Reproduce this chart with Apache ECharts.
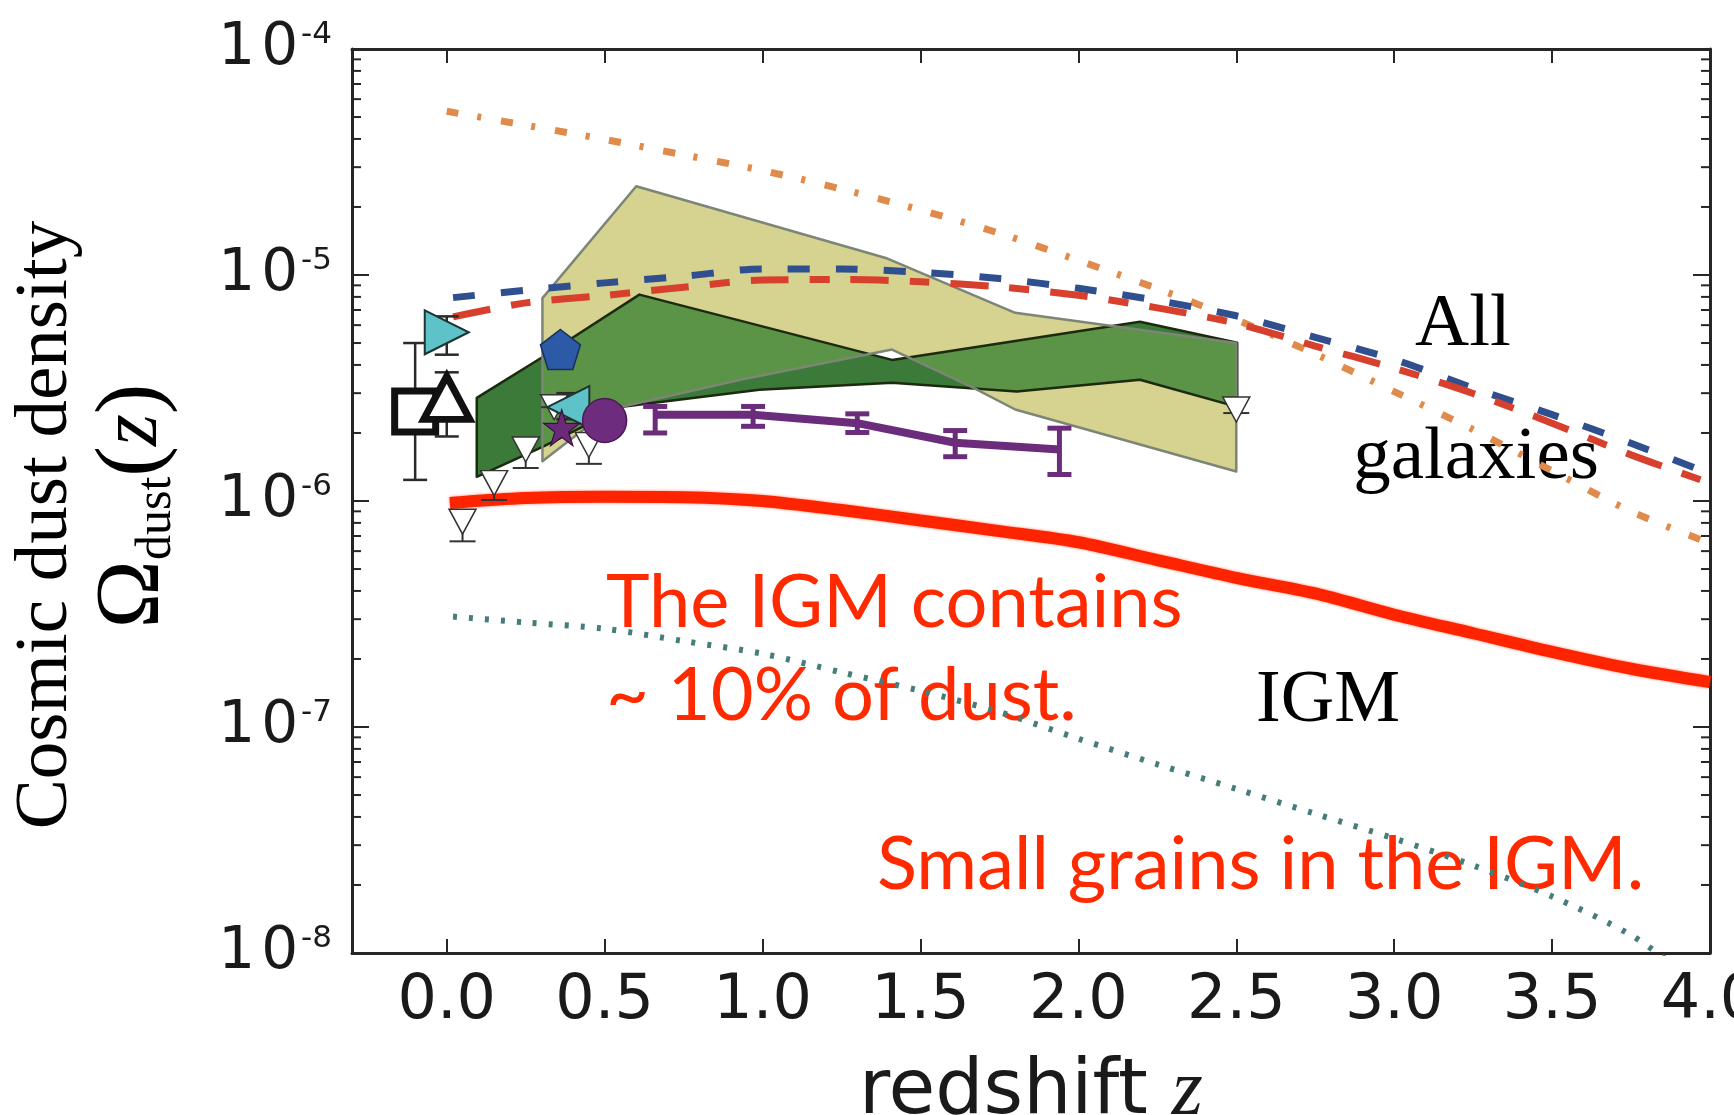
<!DOCTYPE html>
<html>
<head>
<meta charset="utf-8">
<script src="https://cdn.jsdelivr.net/npm/echarts@6/dist/echarts.min.js"></script>
<style>
  html, body { margin: 0; padding: 0; background: #ffffff; }
  #chart { width: 1734px; height: 1115px; }
</style>
</head>
<body>
<div id="chart"></div>
<script>
// ---------- axis ticks ----------
const xTicks = [0, 0.5, 1.0, 1.5, 2.0, 2.5, 3.0, 3.5, 4.0];
const yDecades = [1e-8, 1e-7, 1e-6, 1e-5, 1e-4];

// ---------- model curves: Omega_dust(z) ----------
const modelZ = [0.02, 0.25, 0.5, 0.75, 1.0, 1.25, 1.5, 1.75, 2.0, 2.25, 2.5, 2.75, 3.0, 3.25, 3.5, 3.75, 4.0];
const galaxiesBlue = [7.94e-6, 8.57e-6, 9.23e-6, 9.87e-6, 1.064e-5, 1.063e-5, 1.028e-5, 9.64e-6, 8.73e-6, 7.71e-6, 6.6e-6, 5.3e-6, 4.23e-6, 3.16e-6, 2.41e-6, 1.80e-6, 1.32e-6];
const galaxiesRed  = [6.53e-6, 7.53e-6, 8.12e-6, 8.83e-6, 9.5e-6, 9.55e-6, 9.33e-6, 8.86e-6, 8.13e-6, 7.15e-6, 6.11e-6, 4.85e-6, 3.87e-6, 2.99e-6, 2.21e-6, 1.60e-6, 1.20e-6];
const orangeZ = [0, 0.25, 0.5, 0.75, 1.0, 1.25, 1.5, 1.75, 2.0, 2.25, 2.5, 2.75, 3.0, 3.25, 3.5, 3.75, 4.0];
const galaxiesOrange = [5.3e-5, 4.6e-5, 3.98e-5, 3.4e-5, 2.9e-5, 2.4e-5, 1.94e-5, 1.53e-5, 1.16e-5, 8.7e-6, 6.34e-6, 4.47e-6, 3.05e-6, 2.07e-6, 1.36e-6, 9.0e-7, 6.5e-7];
const igmZ = [0.01, 0.25, 0.5, 0.75, 1.0, 1.25, 1.5, 1.75, 2.0, 2.25, 2.5, 2.75, 3.0, 3.25, 3.5, 3.75, 4.0];
const igmDust = [9.8e-7, 1.03e-6, 1.045e-6, 1.04e-6, 1.0e-6, 9.12e-7, 8.2e-7, 7.36e-7, 6.57e-7, 5.48e-7, 4.57e-7, 3.9e-7, 3.14e-7, 2.6e-7, 2.15e-7, 1.81e-7, 1.58e-7];
const smallZ = [0.02, 0.25, 0.5, 0.75, 1.0, 1.25, 1.5, 1.75, 2.0, 2.25, 2.5, 2.75, 3.0, 3.25, 3.5, 3.75, 3.9];
const smallGrains = [3.08e-7, 2.9e-7, 2.72e-7, 2.4e-7, 2.11e-7, 1.745e-7, 1.445e-7, 1.164e-7, 8.87e-8, 6.84e-8, 5.32e-8, 4.13e-8, 3.21e-8, 2.44e-8, 1.78e-8, 1.2e-8, 8.5e-9];

// ---------- observational bands ----------
const khakiUpperZ = [0.303, 0.6, 1.39, 1.8, 2.09, 2.5];
const khakiUpper  = [7.9e-6, 2.47e-5, 1.19e-5, 6.8e-6, 6.0e-6, 5.0e-6];
const khakiLowerZ = [0.303, 0.515, 0.93, 1.41, 1.665, 1.8, 2.5];
const khakiLower  = [1.5e-6, 2.54e-6, 3.44e-6, 4.68e-6, 3.18e-6, 2.54e-6, 1.35e-6];
const greenUpperZ = [0.095, 0.305, 0.61, 1.41, 2.195, 2.503];
const greenUpper  = [2.86e-6, 4.35e-6, 8.19e-6, 4.21e-6, 6.21e-6, 5.01e-6];
const greenLowerZ = [0.095, 0.305, 0.556, 0.99, 1.41, 1.805, 2.195, 2.503];
const greenLower  = [1.28e-6, 1.74e-6, 2.61e-6, 3.11e-6, 3.34e-6, 3.05e-6, 3.44e-6, 2.61e-6];

// ---------- individual measurements ----------
const squarePt   = { z: -0.1, v: 2.49e-6, lo: 1.24e-6, hi: 5.0e-6 };
const trianglePt = { z: 0.0,  v: 2.86e-6, lo: 1.93e-6, hi: 3.71e-6 };
const cyanRightPt = { z: 0.0, v: 5.58e-6, lo: 4.44e-6, hi: 6.56e-6 };
const cyanLeftPt  = { z: 0.385, v: 2.6e-6, lo: 2.3e-6, hi: 3.0e-6 };
const pentagonPt = { z: 0.36, v: 4.68e-6 };
const starPt     = { z: 0.364, v: 2.11e-6 };
const circlePt   = { z: 0.5, v: 2.27e-6 };
const purpleZ  = [0.66, 0.97, 1.30, 1.61, 1.94];
const purpleV  = [2.41e-6, 2.41e-6, 2.21e-6, 1.81e-6, 1.69e-6];
const purpleLo = [2.0e-6, 2.14e-6, 2.01e-6, 1.57e-6, 1.31e-6];
const purpleHi = [2.62e-6, 2.62e-6, 2.43e-6, 2.05e-6, 2.1e-6];
const limitZ   = [0.05, 0.15, 0.25, 0.34, 0.45, 2.5];
const limitV   = [8.1e-7, 1.2e-6, 1.69e-6, 2.6e-6, 1.77e-6, 2.54e-6];
const limitCap = [6.63e-7, 1.01e-6, 1.40e-6, 2.6e-6, 1.46e-6, 2.45e-6];

// ---------- minor ticks on the log axis (2..9 per decade) ----------
const minorTickValues = [];
for (let e = -8; e < -4; e++) {
  for (let k = 2; k <= 9; k++) minorTickValues.push(k * Math.pow(10, e));
}

const AXIS_COLOR = '#262626';
const RED_TEXT = '#ff2a00';
const KHAKI = '#d6d290';
const GREEN_DARK = '#3b7a38';
const GREEN_IN_KHAKI = '#5b9447';
const GREEN_EDGE = '#1c2a10';
const KHAKI_EDGE = '#7c8576';

function zip(xs, ys) { return xs.map((x, i) => [x, ys[i]]); }

function toPixels(api, zs, vs) { return zs.map((z, i) => api.coord([z, vs[i]])); }

// straight-segment interpolation of a pixel polyline at screen x
function yAt(pts, x) {
  if (x < pts[0][0] - 1e-6 || x > pts[pts.length - 1][0] + 1e-6) return null;
  for (let i = 0; i < pts.length - 1; i++) {
    const a = pts[i], b = pts[i + 1];
    if (x >= a[0] - 1e-6 && x <= b[0] + 1e-6) {
      const t = b[0] === a[0] ? 0 : (x - a[0]) / (b[0] - a[0]);
      return a[1] + t * (b[1] - a[1]);
    }
  }
  return pts[pts.length - 1][1];
}

function outline(top, bottom) { return top.concat(bottom.slice().reverse()); }

// green band, khaki band on top of it, and the overlap of the two
function bandsRenderer(params, api) {
  if (params.dataIndex !== 0) return null;
  const gTop = toPixels(api, greenUpperZ, greenUpper);
  const gBot = toPixels(api, greenLowerZ, greenLower);
  const kTop = toPixels(api, khakiUpperZ, khakiUpper);
  const kBot = toPixels(api, khakiLowerZ, khakiLower);

  const x0 = Math.max(gTop[0][0], kTop[0][0]);
  const x1 = Math.min(gTop[gTop.length - 1][0], kTop[kTop.length - 1][0]);
  const xs = [];
  for (let x = x0; x < x1; x += 1.5) xs.push(x);
  xs.push(x1);
  const oTop = [], oBot = [];
  xs.forEach(x => {
    const top = Math.max(yAt(gTop, x), yAt(kTop, x));
    let bot = Math.min(yAt(gBot, x), yAt(kBot, x));
    if (bot < top) bot = top;
    oTop.push([x, top]);
    oBot.push([x, bot]);
  });

  return {
    type: 'group',
    children: [
      { type: 'polygon', shape: { points: outline(gTop, gBot) }, style: { fill: GREEN_DARK } },
      { type: 'polygon', shape: { points: outline(kTop, kBot) }, style: { fill: KHAKI } },
      { type: 'polygon', shape: { points: outline(oTop, oBot) }, style: { fill: GREEN_IN_KHAKI } },
      { type: 'polygon', shape: { points: outline(gTop, gBot) },
        style: { fill: 'none', stroke: GREEN_EDGE, lineWidth: 2.5, lineJoin: 'round' } },
      { type: 'polygon', shape: { points: outline(kTop, kBot) },
        style: { fill: 'none', stroke: KHAKI_EDGE, lineWidth: 2.5, lineJoin: 'round' } }
    ]
  };
}

// vertical error bar with caps: item = [z, lo, hi]
function errorBarRenderer(color, width, capHalf) {
  return function (params, api) {
    const z = api.value(0);
    const a = api.coord([z, api.value(1)]);
    const b = api.coord([z, api.value(2)]);
    const st = { stroke: color, lineWidth: width };
    return {
      type: 'group',
      children: [
        { type: 'line', shape: { x1: a[0], y1: a[1], x2: b[0], y2: b[1] }, style: st },
        { type: 'line', shape: { x1: a[0] - capHalf, y1: a[1], x2: a[0] + capHalf, y2: a[1] }, style: st },
        { type: 'line', shape: { x1: b[0] - capHalf, y1: b[1], x2: b[0] + capHalf, y2: b[1] }, style: st }
      ]
    };
  };
}

// upper-limit stem and cap: item = [z, value, capValue]
function limitCapRenderer(params, api) {
  const z = api.value(0);
  const a = api.coord([z, api.value(1)]);
  const b = api.coord([z, api.value(2)]);
  const st = { stroke: '#333333', lineWidth: 2 };
  return {
    type: 'group',
    children: [
      { type: 'line', shape: { x1: a[0], y1: a[1], x2: b[0], y2: b[1] }, style: st },
      { type: 'line', shape: { x1: b[0] - 13, y1: b[1], x2: b[0] + 13, y2: b[1] }, style: st }
    ]
  };
}

function minorTickRenderer(params, api) {
  const cs = params.coordSys;
  const y = api.coord([api.value(0), api.value(1)])[1];
  const st = { stroke: AXIS_COLOR, lineWidth: 2 };
  return {
    type: 'group',
    children: [
      { type: 'line', shape: { x1: cs.x, y1: y, x2: cs.x + 9, y2: y }, style: st },
      { type: 'line', shape: { x1: cs.x + cs.width - 9, y1: y, x2: cs.x + cs.width, y2: y }, style: st }
    ]
  };
}

const PENTAGON = 'path://M0,-1 L0.951,-0.309 L0.588,0.809 L-0.588,0.809 L-0.951,-0.309 Z';
const STAR = 'path://M0,-1 L0.2245,-0.309 L0.951,-0.309 L0.3633,0.118 L0.5878,0.809 L0,0.382 L-0.5878,0.809 L-0.3633,0.118 L-0.951,-0.309 L-0.2245,-0.309 Z';

const chart = echarts.init(document.getElementById('chart'), null, { renderer: 'canvas' });

const option = {
  animation: false,
  backgroundColor: '#ffffff',
  grid: { left: 352, right: 24, top: 49, bottom: 162, containLabel: false, outerBoundsMode: 'none' },
  xAxis: [
    {
      type: 'value', min: -0.3, max: 4.0, position: 'bottom',
      axisLine: { show: true, onZero: false, lineStyle: { color: AXIS_COLOR, width: 3 } },
      axisTick: { show: true, inside: true, length: 14, customValues: xTicks, lineStyle: { color: AXIS_COLOR, width: 2 } },
      axisLabel: {
        show: true, customValues: xTicks, margin: 18,
        formatter: v => v.toFixed(1),
        fontFamily: 'DejaVu Sans', fontSize: 62, color: '#1a1a1a'
      },
      splitLine: { show: false },
      name: '{r|redshift }{z|z}', nameLocation: 'middle', nameGap: 100,
      nameTextStyle: {
        rich: {
          r: { fontFamily: 'DejaVu Sans', fontSize: 76, color: '#1a1a1a' },
          z: { fontFamily: 'Liberation Serif', fontStyle: 'italic', fontSize: 80, color: '#1a1a1a' }
        }
      }
    },
    {
      type: 'value', min: -0.3, max: 4.0, position: 'top',
      axisLine: { show: true, onZero: false, lineStyle: { color: AXIS_COLOR, width: 3 } },
      axisTick: { show: true, inside: true, length: 14, customValues: xTicks, lineStyle: { color: AXIS_COLOR, width: 2 } },
      axisLabel: { show: false },
      splitLine: { show: false }
    }
  ],
  yAxis: [
    {
      type: 'log', logBase: 10, min: 1e-8, max: 1e-4, position: 'left',
      axisLine: { show: true, onZero: false, lineStyle: { color: AXIS_COLOR, width: 3 } },
      axisTick: { show: true, inside: true, length: 17, lineStyle: { color: AXIS_COLOR, width: 2 } },
      axisLabel: {
        show: true, margin: 20,
        formatter: v => '{d|1}{d|0}{e|' + Math.round(Math.log10(v)) + '}',
        rich: {
          d: { fontFamily: 'DejaVu Sans', fontSize: 58, lineHeight: 60, width: 43, align: 'center', color: '#1a1a1a' },
          e: { fontFamily: 'DejaVu Sans', fontSize: 31, lineHeight: 34, verticalAlign: 'top', color: '#1a1a1a' }
        }
      },
      splitLine: { show: false }
    },
    {
      type: 'log', logBase: 10, min: 1e-8, max: 1e-4, position: 'right',
      axisLine: { show: true, onZero: false, lineStyle: { color: AXIS_COLOR, width: 3 } },
      axisTick: { show: true, inside: true, length: 17, lineStyle: { color: AXIS_COLOR, width: 2 } },
      axisLabel: { show: false },
      splitLine: { show: false }
    }
  ],
  series: [
    // log minor ticks on both vertical frame edges
    {
      type: 'custom', name: 'minor ticks', silent: true, z: 20,
      data: minorTickValues.map(v => [-0.3, v]),
      renderItem: minorTickRenderer
    },
    // green and khaki observational bands
    {
      type: 'custom', name: 'bands', z: 2, clip: true,
      data: [[greenUpperZ[0], greenUpper[0]]],
      renderItem: bandsRenderer
    },
    // small grains in the IGM
    {
      type: 'line', name: 'small grains', z: 6, data: zip(smallZ, smallGrains),
      symbol: 'none', smooth: 0.3, clip: true,
      lineStyle: { color: '#457d78', width: 6, type: [4, 12], cap: 'butt' }
    },
    // orange dash-dot model
    {
      type: 'line', name: 'galaxies (orange)', z: 6, data: zip(orangeZ, galaxiesOrange),
      symbol: 'none', smooth: 0.3, clip: true,
      lineStyle: { color: '#e08a4c', width: 7, type: [12, 19, 4, 20], cap: 'butt' }
    },
    // blue dashed model
    {
      type: 'line', name: 'galaxies (blue)', z: 7, data: zip(modelZ, galaxiesBlue),
      symbol: 'none', smooth: 0.3, clip: true,
      lineStyle: { color: '#2f4f8e', width: 7, type: [22, 26], cap: 'butt' }
    },
    // red dashed model
    {
      type: 'line', name: 'galaxies (red)', z: 7, data: zip(modelZ, galaxiesRed),
      symbol: 'none', smooth: 0.3, clip: true,
      lineStyle: { color: '#d8402e', width: 7, type: [38, 21, 20, 21], cap: 'butt' }
    },
    // IGM dust: thin navy line under the thick red band
    {
      type: 'line', name: 'IGM (navy)', z: 7, data: zip(igmZ, igmDust),
      symbol: 'none', smooth: 0.3, clip: true,
      lineStyle: { color: '#3d3f8c', width: 3 }
    },
    {
      type: 'line', name: 'IGM', z: 8, data: zip(igmZ, igmDust),
      symbol: 'none', smooth: 0.3, clip: true,
      lineStyle: { color: '#ff2400', width: 12, shadowColor: 'rgba(255,40,0,0.6)', shadowBlur: 3 }
    },
    // purple measurements
    {
      type: 'line', name: 'purple', z: 10, data: zip(purpleZ, purpleV),
      symbol: 'none', lineStyle: { color: '#6b2d7b', width: 8 }
    },
    {
      type: 'custom', name: 'purple errors', z: 10,
      data: purpleZ.map((z, i) => [z, purpleLo[i], purpleHi[i]]),
      renderItem: errorBarRenderer('#6b2d7b', 5, 12)
    },
    // black/cyan error bars
    {
      type: 'custom', name: 'errors', z: 9,
      data: [squarePt, trianglePt, cyanRightPt, cyanLeftPt].map(p => [p.z, p.lo, p.hi]),
      renderItem: errorBarRenderer('#2a2a2a', 2.5, 12)
    },
    // upper limits
    {
      type: 'custom', name: 'limit caps', z: 9,
      data: limitZ.map((z, i) => [z, limitV[i], limitCap[i]]),
      renderItem: limitCapRenderer
    },
    {
      type: 'scatter', name: 'upper limits', z: 10,
      data: zip(limitZ, limitV),
      symbol: 'triangle', symbolRotate: 180, symbolSize: [27, 25],
      itemStyle: { color: '#ffffff', borderColor: '#333333', borderWidth: 1.5, opacity: 1 }
    },
    {
      type: 'scatter', name: 'square', z: 11, data: [[squarePt.z, squarePt.v]],
      symbol: 'rect', symbolSize: 41,
      itemStyle: { color: '#ffffff', borderColor: '#111111', borderWidth: 7, opacity: 1 }
    },
    {
      type: 'scatter', name: 'triangle', z: 11, data: [[trianglePt.z, trianglePt.v]],
      symbol: 'triangle', symbolSize: [46, 43],
      itemStyle: { color: '#ffffff', borderColor: '#111111', borderWidth: 7, opacity: 1 }
    },
    {
      type: 'scatter', name: 'cyan right', z: 11, data: [[cyanRightPt.z, cyanRightPt.v]],
      symbol: 'triangle', symbolRotate: -90, symbolSize: [44, 44],
      itemStyle: { color: '#5ec2c9', borderColor: '#1e3535', borderWidth: 2, opacity: 1 }
    },
    {
      type: 'scatter', name: 'pentagon', z: 11, data: [[pentagonPt.z, pentagonPt.v]],
      symbol: PENTAGON, symbolSize: 40,
      itemStyle: { color: '#2c5aa6', borderColor: '#17305c', borderWidth: 1.5, opacity: 1 }
    },
    {
      type: 'scatter', name: 'cyan left', z: 11, data: [[cyanLeftPt.z, cyanLeftPt.v]],
      symbol: 'triangle', symbolRotate: 90, symbolSize: [42, 42],
      itemStyle: { color: '#5ec2c9', borderColor: '#1e3535', borderWidth: 2, opacity: 1 }
    },
    {
      type: 'scatter', name: 'star', z: 11, data: [[starPt.z, starPt.v]],
      symbol: STAR, symbolSize: 36,
      itemStyle: { color: '#6a2a78', borderColor: '#3a1040', borderWidth: 1.2, opacity: 1 }
    },
    {
      type: 'scatter', name: 'circle', z: 11, data: [[circlePt.z, circlePt.v]],
      symbol: 'circle', symbolSize: 44,
      itemStyle: { color: '#6e2c7e', borderColor: '#4a1a55', borderWidth: 1.5, opacity: 1 }
    }
  ],
  graphic: [
    {
      type: 'text', x: 46, y: 525, rotation: Math.PI / 2, silent: true,
      style: { text: 'Cosmic dust density', font: '75px "Liberation Serif"', fill: '#000000', align: 'center', verticalAlign: 'middle' }
    },
    {
      type: 'text', x: 134, y: 506, rotation: Math.PI / 2, silent: true,
      style: {
        text: '{o|Ω}{s|dust}{p|(}{z|z}{p|)}', align: 'center', verticalAlign: 'middle', fill: '#000000',
        rich: {
          o: { font: '92px "Liberation Serif"', lineHeight: 96 },
          s: { font: '50px "Liberation Serif"', lineHeight: 44, verticalAlign: 'bottom' },
          p: { font: '92px "Liberation Serif"', lineHeight: 96 },
          z: { font: 'italic 82px "Liberation Serif"', lineHeight: 96 }
        }
      }
    },
    { type: 'text', x: 1463, y: 325, silent: true,
      style: { text: 'All', font: '75px "Liberation Serif"', fill: '#000000', align: 'center', verticalAlign: 'middle' } },
    { type: 'text', x: 1476, y: 458, silent: true,
      style: { text: 'galaxies', font: '75px "Liberation Serif"', fill: '#000000', align: 'center', verticalAlign: 'middle' } },
    { type: 'text', x: 1328, y: 702, silent: true,
      style: { text: 'IGM', font: '74px "Liberation Serif"', fill: '#000000', align: 'center', verticalAlign: 'middle' } },
    { type: 'text', x: 606, y: 603, silent: true,
      style: { text: 'The IGM contains', font: '74px Lato', fill: RED_TEXT, align: 'left', verticalAlign: 'middle' } },
    { type: 'text', x: 606, y: 696, silent: true,
      style: { text: '~ 10% of dust.', font: '74px Lato', fill: RED_TEXT, align: 'left', verticalAlign: 'middle' } },
    { type: 'text', x: 877, y: 865, silent: true,
      style: { text: 'Small grains in the IGM.', font: '74px Lato', fill: RED_TEXT, align: 'left', verticalAlign: 'middle' } }
  ]
};

chart.setOption(option);
</script>
</body>
</html>
